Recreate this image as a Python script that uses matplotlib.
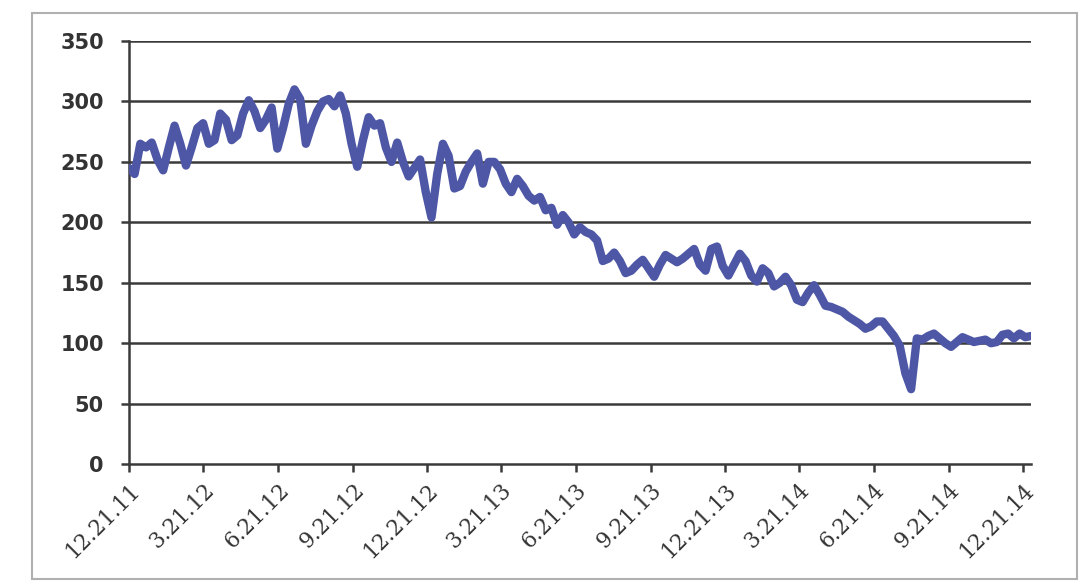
import matplotlib.pyplot as plt
import matplotlib.patches as mpatches
import pandas as pd

# --- Data (weekly) ------------------------------------------------------------
start_date = "2011-12-21"
values = [
    245, 240, 265, 262, 266, 252, 243, 262, 280, 265,
    247, 262, 278, 282, 265, 268, 290, 285, 268, 272,
    290, 301, 292, 278, 285, 295, 261, 278, 298, 310,
    302, 265, 280, 292, 300, 302, 296, 305, 290, 265,
    246, 268, 287, 280, 282, 262, 250, 266, 250, 238,
    245, 252, 225, 204, 240, 265, 255, 228, 230, 242,
    250, 257, 232, 250, 250, 244, 232, 225, 236, 230,
    222, 218, 221, 210, 212, 198, 206, 200, 190, 196,
    192, 190, 185, 168, 170, 175, 168, 158, 160, 165,
    169, 162, 155, 165, 173, 170, 167, 170, 174, 178,
    165, 160, 178, 180, 164, 156, 165, 174, 168, 156,
    151, 162, 158, 147, 150, 155, 148, 136, 134, 142,
    148, 140, 131, 130, 128, 126, 122, 119, 116, 112,
    114, 118, 118, 112, 106, 98, 75, 62, 104, 103,
    106, 108, 104, 100, 97, 101, 105, 103, 101, 102,
    103, 100, 101, 107, 108, 104, 108, 105, 106,
]
tick_dates = ["2011-12-21", "2012-03-21", "2012-06-21", "2012-09-21",
              "2012-12-21", "2013-03-21", "2013-06-21", "2013-09-21",
              "2013-12-21", "2014-03-21", "2014-06-21", "2014-09-21",
              "2014-12-21"]
tick_labels = ["12.21.11", "3.21.12", "6.21.12", "9.21.12", "12.21.12",
               "3.21.13", "6.21.13", "9.21.13", "12.21.13", "3.21.14",
               "6.21.14", "9.21.14", "12.21.14"]
y_ticks = [0, 50, 100, 150, 200, 250, 300, 350]

dates = pd.date_range(start_date, periods=len(values), freq="7D")

# --- Figure -------------------------------------------------------------------
fig = plt.figure(figsize=(10.83, 5.86), dpi=100)
ax = fig.add_axes([0.119, 0.208, 0.833, 0.722])

# faint chart-area border from the scan
fig.patches.append(mpatches.Rectangle((0.030, 0.012), 0.964, 0.966,
                                      transform=fig.transFigure, fill=False,
                                      edgecolor="#b0b0b0", linewidth=1.5))

grid_col = "#3a3a3a"
for v in y_ticks[1:]:
    ax.axhline(v, color=grid_col, linewidth=1.8, zorder=1)

ax.plot(dates, values, color="#4d57a6", linewidth=6,
        solid_joinstyle="round", solid_capstyle="round", zorder=3)

ax.set_ylim(0, 350)
ax.set_xlim(pd.Timestamp(start_date), dates[-1])
ax.set_yticks(y_ticks)
ax.set_xticks(pd.to_datetime(tick_dates))
ax.set_xticklabels(tick_labels, rotation=45, ha="right",
                   rotation_mode="anchor", family="DejaVu Serif",
                   fontsize=15.5, color="#333333")
for lab in ax.get_yticklabels():
    lab.set_fontsize(15)
    lab.set_color("#333333")
    lab.set_fontweight("bold")

ax.spines[["top", "right"]].set_visible(False)
for s in ("left", "bottom"):
    ax.spines[s].set_color(grid_col)
    ax.spines[s].set_linewidth(1.8)
ax.tick_params(axis="x", direction="out", length=6, width=1.8,
               color=grid_col, pad=5)
ax.tick_params(axis="y", direction="out", length=6, width=1.8,
               color=grid_col, pad=12)

plt.savefig("out.png", dpi=100)
